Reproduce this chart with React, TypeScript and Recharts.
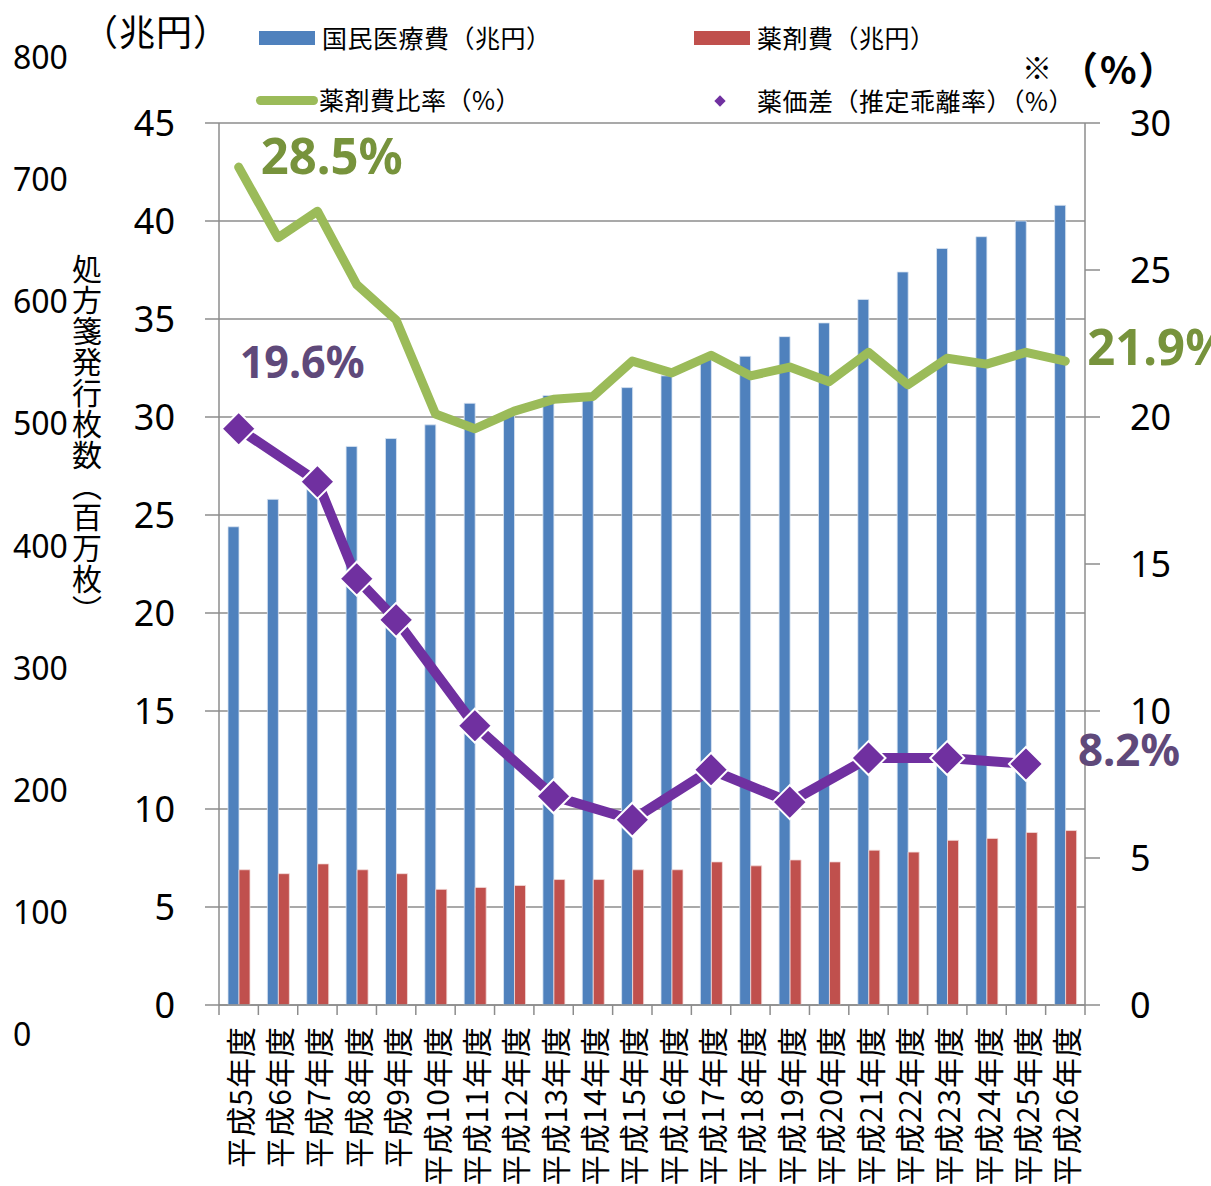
import React from "react"
import { ComposedChart, Bar, Line, XAxis, YAxis, CartesianGrid } from "recharts"

const years = [
  "平成5年度", "平成6年度", "平成7年度", "平成8年度", "平成9年度", "平成10年度",
  "平成11年度", "平成12年度", "平成13年度", "平成14年度", "平成15年度", "平成16年度",
  "平成17年度", "平成18年度", "平成19年度", "平成20年度", "平成21年度", "平成22年度",
  "平成23年度", "平成24年度", "平成25年度", "平成26年度",
]
// 国民医療費（兆円）
const medicalCost = [24.4, 25.8, 27.0, 28.5, 28.9, 29.6, 30.7, 30.1, 31.1, 30.9, 31.5, 32.1, 33.1, 33.1, 34.1, 34.8, 36.0, 37.4, 38.6, 39.2, 40.0, 40.8]
// 薬剤費（兆円）
const drugCost = [6.9, 6.7, 7.2, 6.9, 6.7, 5.9, 6.0, 6.1, 6.4, 6.4, 6.9, 6.9, 7.3, 7.1, 7.4, 7.3, 7.9, 7.8, 8.4, 8.5, 8.8, 8.9]
// 薬剤費比率（%）
const drugRatio = [28.5, 26.1, 27.0, 24.5, 23.3, 20.1, 19.6, 20.2, 20.6, 20.7, 21.9, 21.5, 22.1, 21.4, 21.7, 21.2, 22.2, 21.1, 22.0, 21.8, 22.2, 21.9]
// 薬価差（推定乖離率）（%）
const priceGap = [19.6, null, 17.8, 14.5, 13.1, null, 9.5, null, 7.1, null, 6.3, null, 8.0, null, 6.9, null, 8.4, null, 8.4, null, 8.2, null]

const leftTicks = [0, 5, 10, 15, 20, 25, 30, 35, 40, 45]
const rightTicks = [0, 5, 10, 15, 20, 25, 30]
const sheetTicks = [0, 100, 200, 300, 400, 500, 600, 700, 800]

const data = years.map((year, i) => ({
  year,
  medical: medicalCost[i],
  drug: drugCost[i],
  ratio: drugRatio[i],
  gap: priceGap[i],
}))

const W = 1211
const H = 1186
const PLOT_LEFT = 219
const PLOT_RIGHT = 1085
const PLOT_TOP = 123
const PLOT_BOTTOM = 1005
const BAND = (PLOT_RIGHT - PLOT_LEFT) / years.length

const GRAY = "#8c8c8c"
const BLUE = "#4F81BD"
const RED = "#C0504D"
const GREEN = "#9BBB59"
const PURPLE = "#7030A0"
const GREEN_TEXT = "#77933C"
const PURPLE_TEXT = "#5F497A"

const JP = '"Noto Sans CJK JP", "Noto Sans", sans-serif'
const NUM = '"Noto Sans", "DejaVu Sans", sans-serif'

const lastGap = priceGap.reduce((acc: number, v, i) => (v == null ? acc : i), 0)

function YearTick({ x, y, payload, index }: any) {
  return (
    <g>
      <line x1={x - BAND / 2} x2={x - BAND / 2} y1={y} y2={y + 10} stroke={GRAY} strokeWidth={1.5} />
      {index === years.length - 1 && (
        <line x1={x + BAND / 2} x2={x + BAND / 2} y1={y} y2={y + 10} stroke={GRAY} strokeWidth={1.5} />
      )}
      <text
        transform={`translate(${x},${y + 21}) rotate(-90)`}
        textAnchor="end"
        dominantBaseline="central"
        fontSize={30}
        letterSpacing={1}
        fontFamily={JP}
        fill="#000"
      >
        {payload.value}
      </text>
    </g>
  )
}

function Diamond({ cx, cy, value }: any) {
  if (value == null || cx == null) return <g />
  const r = 17
  return (
    <polygon
      points={`${cx},${cy - r} ${cx + r},${cy} ${cx},${cy + r} ${cx - r},${cy}`}
      fill={PURPLE}
      stroke="#fff"
      strokeWidth={2}
    />
  )
}

function ratioLabel(p: any) {
  const last = drugRatio.length - 1
  if (p.index !== 0 && p.index !== last) return <g />
  return (
    <text
      x={p.x + 22}
      y={p.y + (p.index === 0 ? 7 : 4)}
      fontSize={50}
      fontWeight={700}
      fontFamily={NUM}
      fill={GREEN_TEXT}
      textLength={142}
      lengthAdjust="spacingAndGlyphs"
    >
      {`${p.value}%`}
    </text>
  )
}

function gapLabel(p: any) {
  if (p.index === 0) {
    return (
      <text x={p.x + 1} y={p.y - 51} fontSize={45} fontWeight={700} fontFamily={NUM} fill={PURPLE_TEXT}
        textLength={125} lengthAdjust="spacingAndGlyphs">
        {`${p.value}%`}
      </text>
    )
  }
  if (p.index === lastGap) {
    return (
      <text x={p.x + 52} y={p.y + 2} fontSize={44} fontWeight={700} fontFamily={NUM} fill={PURPLE_TEXT}
        textLength={102} lengthAdjust="spacingAndGlyphs">
        {`${p.value}%`}
      </text>
    )
  }
  return <g />
}

function Txt({ x, cy, size, children, family = JP, weight = 400, spacing = 0 }: any) {
  return (
    <div
      style={{
        position: "absolute",
        left: x,
        top: cy - size / 2,
        fontSize: size,
        lineHeight: `${size}px`,
        fontFamily: family,
        fontWeight: weight,
        letterSpacing: spacing,
        whiteSpace: "nowrap",
        color: "#000",
      }}
    >
      {children}
    </div>
  )
}

const legendItems = [
  { label: "国民医療費（兆円）", color: BLUE, kind: "bar", x: 259, cy: 38 },
  { label: "薬剤費（兆円）", color: RED, kind: "bar", x: 694, cy: 38 },
  { label: "薬剤費比率（%）", color: GREEN, kind: "line", x: 256, cy: 100 },
  { label: "薬価差（推定乖離率）（%）", color: PURPLE, kind: "dot", x: 716, cy: 101 },
]

export default function App() {
  const sheetY = (v: number) => 1034 - (v * 977) / 800

  return (
    <div style={{ position: "relative", width: W, height: H, background: "#fff", overflow: "hidden" }}>
      <style>{"body{margin:0}"}</style>

      <ComposedChart
        width={W}
        height={H}
        data={data}
        margin={{ top: PLOT_TOP, right: 0, bottom: 0, left: 0 }}
        barGap={0}
      >
        <CartesianGrid vertical={false} stroke={GRAY} strokeWidth={1.5} />
        <XAxis
          dataKey="year"
          interval={0}
          height={H - PLOT_BOTTOM}
          tickLine={false}
          tickSize={0}
          tickMargin={0}
          axisLine={{ stroke: GRAY, strokeWidth: 1.5 }}
          tick={<YearTick />}
        />
        <YAxis
          width={PLOT_LEFT}
          domain={[0, 45]}
          ticks={leftTicks}
          interval={0}
          tickSize={14}
          tickMargin={30}
          axisLine={{ stroke: GRAY, strokeWidth: 1.5 }}
          tickLine={{ stroke: GRAY, strokeWidth: 1.5 }}
          tick={{ fontSize: 36, fill: "#000", fontFamily: NUM }}
        />
        <YAxis
          yAxisId="right"
          orientation="right"
          width={W - PLOT_RIGHT}
          domain={[0, 30]}
          ticks={rightTicks}
          interval={0}
          tickSize={15}
          tickMargin={30}
          axisLine={{ stroke: GRAY, strokeWidth: 1.5 }}
          tickLine={{ stroke: GRAY, strokeWidth: 1.5 }}
          tick={{ fontSize: 36, fill: "#000", fontFamily: NUM }}
        />
        <Bar dataKey="medical" barSize={11} fill={BLUE} stroke="#dce6f2" strokeWidth={0.8} isAnimationActive={false} />
        <Bar dataKey="drug" barSize={11} fill={RED} stroke="#f2dcdb" strokeWidth={0.8} isAnimationActive={false} />
        <Line
          yAxisId="right"
          type="linear"
          dataKey="ratio"
          stroke={GREEN}
          strokeWidth={9}
          strokeLinecap="round"
          strokeLinejoin="round"
          dot={false}
          activeDot={false}
          label={ratioLabel}
          isAnimationActive={false}
        />
        <Line
          yAxisId="right"
          type="linear"
          dataKey="gap"
          connectNulls
          stroke={PURPLE}
          strokeWidth={10}
          strokeLinejoin="round"
          dot={<Diamond />}
          activeDot={false}
          label={gapLabel}
          isAnimationActive={false}
        />
      </ComposedChart>

      {/* axis units */}
      <Txt x={82} cy={30} size={36} spacing={1}>（兆円）</Txt>
      <Txt x={1022} cy={66} size={30}>※</Txt>
      <Txt x={1060} cy={68} size={38} weight={700} spacing={2}>（%）</Txt>

      {/* prescription sheet axis, no series */}
      {sheetTicks.map((v) => (
        <Txt key={v} x={13} cy={sheetY(v)} size={32} family={NUM}>
          {v}
        </Txt>
      ))}
      <div
        style={{
          position: "absolute",
          left: 72,
          top: 254,
          fontSize: 30,
          lineHeight: "30px",
          letterSpacing: 1,
          fontFamily: JP,
          writingMode: "vertical-rl",
          textOrientation: "mixed",
          color: "#000",
        }}
      >
        処方箋発行枚数（百万枚）
      </div>

      {/* legend */}
      {legendItems.map((it) => (
        <React.Fragment key={it.label}>
          {it.kind === "bar" && (
            <div style={{ position: "absolute", left: it.x, top: it.cy - 7, width: 56, height: 14, background: it.color }} />
          )}
          {it.kind === "line" && (
            <div style={{ position: "absolute", left: it.x, top: it.cy - 4.5, width: 62, height: 9, borderRadius: 5, background: it.color }} />
          )}
          {it.kind === "dot" && (
            <div style={{ position: "absolute", left: it.x, top: it.cy - 4, width: 8, height: 8, transform: "rotate(45deg)", background: it.color }} />
          )}
          <Txt x={it.kind === "dot" ? 757 : it.x + 63} cy={it.cy - 1} size={25} spacing={0.5}>
            {it.label}
          </Txt>
        </React.Fragment>
      ))}
    </div>
  )
}
